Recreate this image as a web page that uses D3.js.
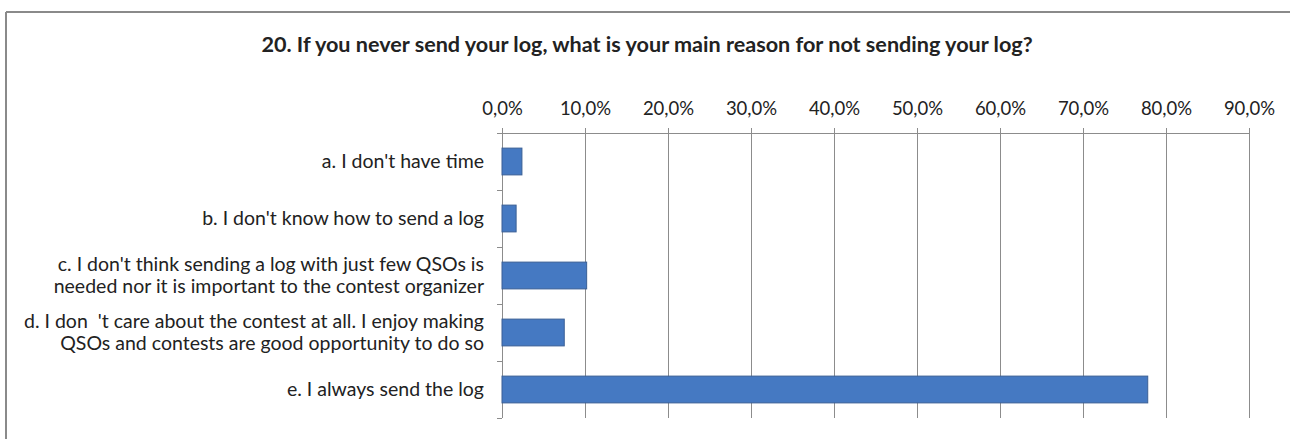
<!DOCTYPE html>
<html>
<head>
<meta charset="utf-8">
<script src="https://cdn.jsdelivr.net/npm/d3@7/dist/d3.min.js"></script>
<style>
  html, body { margin: 0; padding: 0; background: #fff; }
  svg { display: block; }
  text { font-family: Lato, "Open Sans", sans-serif; fill: #222; }
  .cat { white-space: pre; }
</style>
</head>
<body>
<svg id="chart" width="1290" height="439"></svg>
<script>
// Survey question 20: reasons for not sending a contest log
const title = "20. If you never send your log, what is your main reason for not sending your log?";

const categories = [
  ["a. I don't have time"],
  ["b. I don't know how to send a log"],
  ["c. I don't think sending a log with just few QSOs is", "needed nor it is important to the contest organizer"],
  ["d. I don  't care about the contest at all. I enjoy making", "QSOs and contests are good opportunity to do so"],
  ["e. I always send the log"]
];
const shares = [2.4, 1.7, 10.2, 7.5, 77.8];   // percent of respondents
const tickValues = [0, 10, 20, 30, 40, 50, 60, 70, 80, 90];

const svg = d3.select("#chart");
const W = 1290, H = 439;
const plot = { left: 502, right: 1249, top: 133, bottom: 418 };

// Chart frame (top and left edges)
svg.append("line").attr("x1", 6).attr("x2", W).attr("y1", 12).attr("y2", 12)
  .attr("stroke", "#8a8a8a").attr("stroke-width", 2);
svg.append("line").attr("x1", 6).attr("x2", 6).attr("y1", 12).attr("y2", H)
  .attr("stroke", "#8a8a8a").attr("stroke-width", 2);

svg.append("text").attr("x", 647).attr("y", 52).attr("text-anchor", "middle")
  .style("font-weight", "bold").style("font-size", "21.6px").text(title);

const x = d3.scaleLinear().domain([0, 90]).range([plot.left, plot.right]);
const idx = d3.range(categories.length);
const y = d3.scaleBand().domain(idx).range([plot.top, plot.bottom]).paddingInner(0.53).paddingOuter(0.265);
const yb = d3.scaleBand().domain(idx).range([plot.top, plot.bottom]);

const fmt = v => d3.format(".1f")(v).replace(".", ",") + "%";

// Vertical gridlines
svg.append("g").selectAll("line").data(tickValues.slice(1)).join("line")
  .attr("x1", d => x(d)).attr("x2", d => x(d))
  .attr("y1", plot.top).attr("y2", plot.bottom)
  .attr("stroke", "#8c8c8c").attr("stroke-width", 1).attr("shape-rendering", "crispEdges");

// Top value axis
const xAxis = svg.append("g").attr("transform", `translate(0,${plot.top})`)
  .call(d3.axisTop(x).tickValues(tickValues).tickFormat(fmt).tickSize(5).tickPadding(13));
xAxis.select(".domain").attr("stroke", "#8c8c8c").attr("shape-rendering", "crispEdges");
xAxis.selectAll(".tick line").attr("stroke", "#8c8c8c").attr("shape-rendering", "crispEdges");
xAxis.selectAll(".tick text").style("font-size", "18.5px").style("font-family", "Lato, sans-serif").attr("fill", "#222");

// Category axis line with boundary ticks
svg.append("line").attr("x1", plot.left).attr("x2", plot.left).attr("y1", plot.top).attr("y2", plot.bottom)
  .attr("stroke", "#8c8c8c").attr("shape-rendering", "crispEdges");
svg.append("g").selectAll("line").data(d3.range(categories.length + 1)).join("line")
  .attr("x1", plot.left - 5).attr("x2", plot.left)
  .attr("y1", d => plot.top + d * yb.step()).attr("y2", d => plot.top + d * yb.step())
  .attr("stroke", "#8c8c8c").attr("shape-rendering", "crispEdges");

// Bars
svg.append("g").selectAll("rect").data(shares).join("rect")
  .attr("x", x(0)).attr("y", (d, i) => y(i))
  .attr("width", d => x(d) - x(0)).attr("height", y.bandwidth())
  .attr("fill", "#4579c2").attr("stroke", "#3a5f95").attr("stroke-width", 1);

// Category labels
const lab = svg.append("g").selectAll("text").data(categories).join("text")
  .attr("class", "cat")
  .attr("text-anchor", "end").style("font-size", "19.5px")
  .attr("transform", (d, i) => `translate(484,${yb(i) + yb.bandwidth() / 2})`);
lab.selectAll("tspan").data(d => d.map((t, k) => ({ t, k, n: d.length }))).join("tspan")
  .attr("x", 0)
  .attr("y", d => (d.k - (d.n - 1) / 2) * 22)
  .attr("dy", "0.35em")
  .text(d => d.t);
</script>
</body>
</html>
